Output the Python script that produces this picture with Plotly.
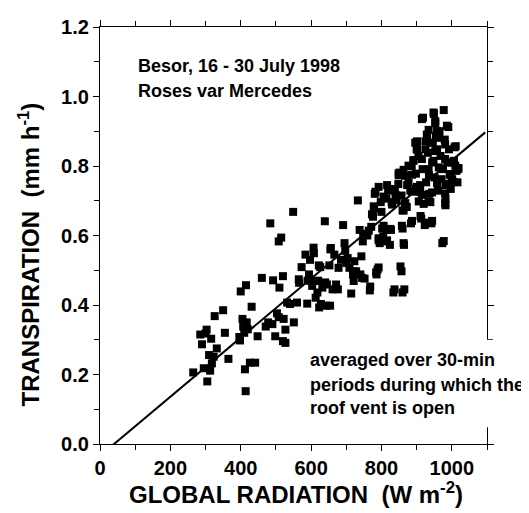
import plotly.graph_objects as go

# ---- data ----
radiation = [
    265, 285, 290, 303, 295, 305, 310, 316, 313, 326, 332, 350, 355, 365, 323, 300, 318,
    396, 400, 405, 412, 414, 415, 417, 407, 398, 431, 426, 441, 448, 460, 471, 478, 484, 420, 410,
    492, 498, 490, 508, 515, 520, 510, 503, 508, 522, 520, 527, 527, 532, 549, 540, 551, 560, 566, 573,
    584, 589, 594, 603, 608, 610, 613, 618, 623, 626, 628, 632, 639, 642, 645, 652, 654, 656, 661, 666, 671,
    607, 597, 622, 565, 600, 590, 620, 640, 655,
    676, 678, 685, 691, 695, 697, 700, 704, 709, 714, 719, 721, 723, 728, 733, 738, 743, 745, 747, 752, 767, 771,
    740, 748, 721, 760,
    776, 779, 781, 786, 789, 792, 795, 798, 800, 802, 805, 810, 812, 814, 819, 824, 827, 829, 834, 838, 843, 848,
    852, 857, 854, 857, 860, 860, 864, 860, 867, 867,
    792, 816, 783, 806, 840, 778, 830, 868, 773, 863, 858, 764, 806, 825, 792, 816, 863, 849, 768, 785, 792, 837, 865,
    872, 877, 882, 884, 886, 891, 896, 900, 898, 903, 905, 910, 915, 913, 917, 920, 923, 925, 927, 929, 932, 934,
    936, 939, 942, 944, 946, 949, 951, 953, 955, 958, 961, 963,
    918, 948, 953, 934, 958, 930, 964, 901, 939, 901, 925, 953, 891, 915, 948, 877, 863, 849, 906, 911, 925, 944, 887, 977,
    965, 968, 971, 973, 975, 977, 980, 982, 982, 984, 987, 990, 992, 994, 997, 1000, 1001, 1006, 1011, 1013, 1016, 1018,
    986, 981, 1008, 981, 1010, 1019,
    887, 898, 935, 996, 873, 901, 910, 958, 982, 1005, 887, 915, 944, 981, 934, 981,
]
transpiration = [
    0.206, 0.315, 0.287, 0.329, 0.218, 0.180, 0.256, 0.303, 0.211, 0.368, 0.275, 0.385, 0.320, 0.245, 0.251, 0.318, 0.232,
    0.308, 0.439, 0.360, 0.215, 0.152, 0.457, 0.350, 0.338, 0.298, 0.395, 0.234, 0.234, 0.310, 0.478, 0.338, 0.350, 0.635, 0.330, 0.320,
    0.471, 0.310, 0.345, 0.583, 0.594, 0.483, 0.450, 0.376, 0.365, 0.360, 0.296, 0.291, 0.329, 0.407, 0.668, 0.403, 0.350, 0.407, 0.464, 0.509,
    0.545, 0.404, 0.488, 0.455, 0.549, 0.469, 0.421, 0.436, 0.393, 0.509, 0.403, 0.450, 0.641, 0.398, 0.459, 0.514, 0.398, 0.564, 0.445, 0.545, 0.459,
    0.565, 0.530, 0.514, 0.474, 0.470, 0.470, 0.470, 0.465, 0.560,
    0.445, 0.507, 0.530, 0.630, 0.578, 0.556, 0.521, 0.535, 0.507, 0.433, 0.488, 0.469, 0.526, 0.497, 0.701, 0.616, 0.540, 0.478, 0.583, 0.476, 0.442, 0.625,
    0.488, 0.605, 0.497, 0.600,
    0.654, 0.677, 0.720, 0.488, 0.502, 0.592, 0.578, 0.696, 0.668, 0.620, 0.597, 0.583, 0.616, 0.706, 0.729, 0.573, 0.616, 0.696, 0.436, 0.734, 0.701, 0.748,
    0.781, 0.715, 0.511, 0.497, 0.436, 0.620, 0.573, 0.672, 0.691, 0.772,
    0.740, 0.745, 0.726, 0.712, 0.717, 0.684, 0.689, 0.693, 0.661, 0.672, 0.628, 0.614, 0.628, 0.619, 0.586, 0.586, 0.578, 0.773, 0.453, 0.494, 0.508, 0.445, 0.445,
    0.682, 0.753, 0.729, 0.635, 0.800, 0.815, 0.867, 0.848, 0.734, 0.729, 0.829, 0.725, 0.935, 0.649, 0.791, 0.691, 0.630, 0.871, 0.753, 0.890, 0.838, 0.791,
    0.720, 0.696, 0.635, 0.810, 0.867, 0.950, 0.767, 0.923, 0.886, 0.848, 0.729, 0.796,
    0.939, 0.954, 0.929, 0.904, 0.901, 0.890, 0.881, 0.871, 0.867, 0.848, 0.848, 0.843, 0.817, 0.820, 0.815, 0.801, 0.789, 0.779, 0.698, 0.656, 0.637, 0.642, 0.642, 0.584,
    0.900, 0.829, 0.762, 0.578, 0.791, 0.961, 0.876, 0.706, 0.687, 0.748, 0.810, 0.912, 0.848, 0.777, 0.734, 0.810, 0.762, 0.815, 0.857, 0.786, 0.753, 0.791,
    0.916, 0.862, 0.854, 0.820, 0.801, 0.794,
    0.775, 0.778, 0.773, 0.773, 0.745, 0.740, 0.745, 0.750, 0.745, 0.754, 0.726, 0.717, 0.724, 0.721, 0.698, 0.693,
]

# regression line (slope / intercept)
fit_slope = 0.00085
fit_intercept = -0.034
fit_x = [0, 1095]
fit_y = [fit_slope * v + fit_intercept for v in fit_x]

x_tickvals = [0, 200, 400, 600, 800, 1000]
y_tickvals = [0.0, 0.2, 0.4, 0.6, 0.8, 1.0, 1.2]

FONT = "Liberation Sans, Arial, sans-serif"

fig = go.Figure()
fig.add_trace(go.Scatter(
    x=radiation, y=transpiration, mode="markers",
    marker=dict(symbol="square", size=8, color="black", line=dict(width=0)),
    showlegend=False, hoverinfo="skip",
))
fig.add_trace(go.Scatter(
    x=fit_x, y=fit_y, mode="lines",
    line=dict(color="black", width=2),
    showlegend=False, hoverinfo="skip",
))

axis_common = dict(
    showline=True, linecolor="black", linewidth=1.3, mirror="ticks",
    ticks="outside", ticklen=6, tickwidth=1.3, tickcolor="black",
    showgrid=False, zeroline=False,
    tickfont=dict(family=FONT, size=20, color="black", weight="bold"),
)

fig.update_xaxes(
    range=[0, 1100], tickvals=x_tickvals,
    minor=dict(dtick=100, tick0=0, ticks="outside", ticklen=5, tickwidth=1.3, tickcolor="black", showgrid=False),
    **axis_common,
)
fig.update_yaxes(
    range=[0, 1.2], tickvals=y_tickvals, tickformat=".1f",
    minor=dict(dtick=0.1, tick0=0, ticks="outside", ticklen=5, tickwidth=1.3, tickcolor="black", showgrid=False),
    **axis_common,
)

ann_font = dict(family=FONT, size=18, color="black", weight="bold")
title_font = dict(family=FONT, size=24, color="black", weight="bold")
annotations = [
    dict(x=101, y=1.089, xref="x", yref="y", text="Besor, 16 - 30 July 1998",
         showarrow=False, xanchor="left", yanchor="middle", font=ann_font),
    dict(x=101, y=1.015, xref="x", yref="y", text="Roses var Mercedes",
         showarrow=False, xanchor="left", yanchor="middle", font=ann_font),
    dict(x=590, y=0.242, xref="x", yref="y", text="averaged over 30-min",
         showarrow=False, xanchor="left", yanchor="middle", font=ann_font),
    dict(x=590, y=0.170, xref="x", yref="y", text="periods during which the",
         showarrow=False, xanchor="left", yanchor="middle", font=ann_font),
    dict(x=590, y=0.104, xref="x", yref="y", text="roof vent is open",
         showarrow=False, xanchor="left", yanchor="middle", font=ann_font),
    # axis titles
    dict(x=-0.184, y=0.454, xref="paper", yref="paper", text="TRANSPIRATION  (mm h<sup>-1</sup>)",
         showarrow=False, textangle=-90, xanchor="center", yanchor="middle", font=title_font),
    dict(x=0.507, y=-0.117, xref="paper", yref="paper", text="GLOBAL RADIATION  (W m<sup>-2</sup>)",
         showarrow=False, xanchor="center", yanchor="middle", font=title_font),
]

# white panel behind the note that hides the right frame there
shapes = [
    dict(type="rect", xref="paper", yref="paper", x0=0.517, x1=1.098, y0=0.04, y1=0.25,
         fillcolor="white", line=dict(width=0), layer="above"),
]

# the page body adds an 8 px offset, so the figure is 8 px smaller and margins shifted
fig.update_layout(
    width=521, height=505,
    margin=dict(l=91.5, r=42.3, t=8.2, b=69.3),
    paper_bgcolor="white", plot_bgcolor="white",
    annotations=annotations, shapes=shapes,
)

fig.write_html("out.html")
